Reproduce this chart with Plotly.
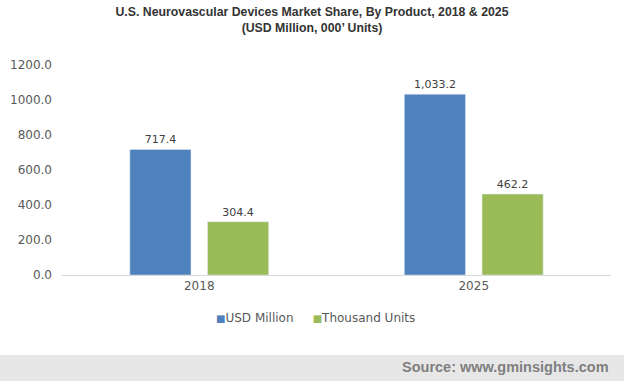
import plotly.graph_objects as go

categories = ["2018", "2025"]
usd_million = [717.4, 1033.2]
thousand_units = [304.4, 462.2]
usd_labels = ["717.4", "1,033.2"]
units_labels = ["304.4", "462.2"]
y_ticks = [0, 200, 400, 600, 800, 1000, 1200]
y_tick_text = ["0.0", "200.0", "400.0", "600.0", "800.0", "1000.0", "1200.0"]
series_names = ["USD Million", "Thousand Units"]
series_colors = ["#4f81bd", "#9bbb59"]

fig = go.Figure()
fig.add_trace(go.Bar(
    x=categories, y=usd_million, name=series_names[0],
    marker_color=series_colors[0], text=usd_labels, textposition="outside",
    textfont=dict(family="DejaVu Sans", size=11, color="#404040"), cliponaxis=False,
))
fig.add_trace(go.Bar(
    x=categories, y=thousand_units, name=series_names[1],
    marker_color=series_colors[1], text=units_labels, textposition="outside",
    textfont=dict(family="DejaVu Sans", size=11, color="#404040"), cliponaxis=False,
))

PW, PH = 549, 210
fig.update_layout(
    width=624, height=381,
    margin=dict(l=62, r=13, t=65, b=106, autoexpand=False),
    paper_bgcolor="white", plot_bgcolor="white",
    barmode="group", bargap=0.434, bargroupgap=0.213,
    title=dict(
        text="<b>U.S. Neurovascular Devices Market Share, By Product, 2018 &amp; 2025<br>(USD Million, 000’ Units)</b>",
        x=0.5, xanchor="center", y=0.957, yanchor="top",
        font=dict(family="Liberation Sans, Arial", size=12.3, color="#333333"),
    ),
    xaxis=dict(
        showline=True, linecolor="#d9d9d9", linewidth=1, ticks="",
        tickfont=dict(family="DejaVu Sans", size=12, color="#595959"),
        showgrid=False, automargin=False,
    ),
    yaxis=dict(
        range=[0, 1200], tickvals=y_ticks, ticktext=y_tick_text,
        showgrid=False, zeroline=False, showline=False,
        tickfont=dict(family="DejaVu Sans", size=12, color="#595959"),
        ticks="", ticklabelstandoff=9, automargin=False,
    ),
    showlegend=False,
)

# legend drawn as text annotations
legend_y = -(318 - 275) / PH
fig.add_annotation(
    text=f"<span style='color:{series_colors[0]};font-size:10px'>■</span>{series_names[0]}"
         f"     <span style='color:{series_colors[1]};font-size:10px'>■</span>{series_names[1]}",
    xref="paper", yref="paper", x=(315 - 62) / PW, xanchor="center",
    y=legend_y, yanchor="middle", showarrow=False,
    font=dict(family="DejaVu Sans", size=12, color="#595959"),
)

fig.add_shape(type="rect", xref="paper", yref="paper",
              x0=-70 / PW, x1=1 + 20 / PW, y0=-110 / PH, y1=-80 / PH,
              fillcolor="#e7e7e7", line_width=0, layer="below")
fig.add_annotation(text="<b>Source: www.gminsights.com</b>", xref="paper", yref="paper",
                   x=1, xanchor="right", y=-92 / PH, yanchor="middle", showarrow=False,
                   font=dict(family="Liberation Sans, Arial", size=14.5, color="#7f7f7f"))

fig.write_html("out.html", config={"displayModeBar": False},
               post_script="document.body.style.margin='0';document.body.style.overflow='hidden';")
